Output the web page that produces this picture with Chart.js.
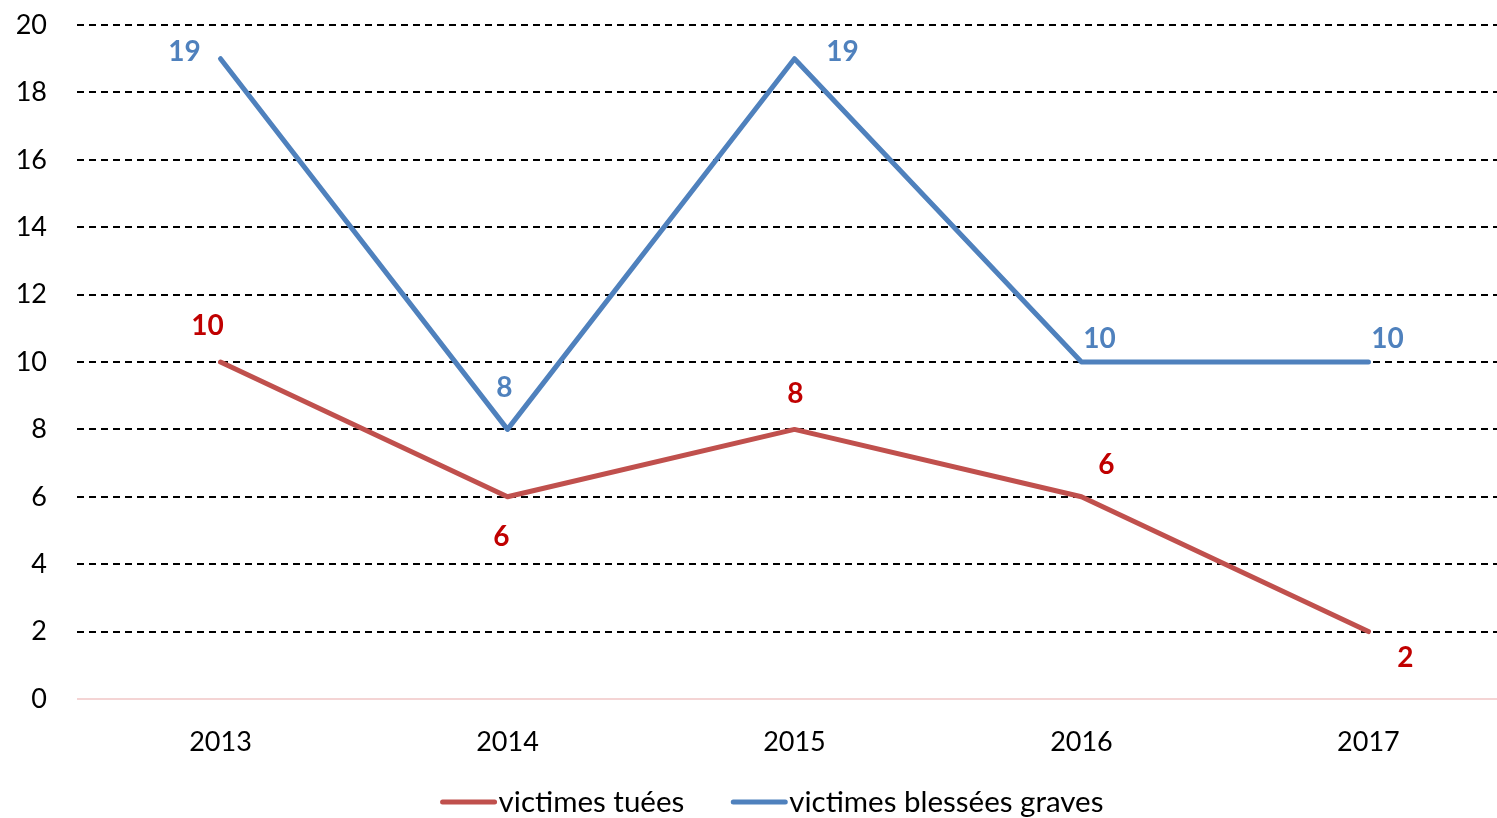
<!DOCTYPE html>
<html>
<head>
<meta charset="utf-8">
<script src="https://cdn.jsdelivr.net/npm/chart.js@4/dist/chart.umd.min.js"></script>
<style>
html,body{margin:0;padding:0;background:#fff;overflow:hidden;}
#wrap{width:1497px;height:818px;position:relative;}
</style>
</head>
<body>
<div id="wrap"><canvas id="c" width="1497" height="818"></canvas></div>
<script>
const categories = ['2013', '2014', '2015', '2016', '2017'];
const killed = [10, 6, 8, 6, 2];
const injured = [19, 8, 19, 10, 10];
const yTicks = [0, 2, 4, 6, 8, 10, 12, 14, 16, 18, 20];
const seriesNames = ['victimes tuées', 'victimes blessées graves'];

const FONT = 'Lato, Calibri, Carlito, sans-serif';
const RED = '#C0504D', BLUE = '#4F81BD';
const RED_LABEL = '#C00000', BLUE_LABEL = '#4F81BD';

// label offsets (px) relative to each point
const labelOffsets = [
  [[-13,-36],[-6,40],[1,-35],[25,-32],[37,26]],
  [[-36,-7],[-3,-41],[48,-7],[18,-23],[19,-23]]
];
const labelColors = [RED_LABEL, BLUE_LABEL];

const dataLabels = {
  id: 'dataLabels',
  afterDatasetsDraw(chart) {
    const ctx = chart.ctx;
    ctx.save();
    ctx.font = 'bold 28px ' + FONT;
    ctx.textAlign = 'center';
    ctx.textBaseline = 'middle';
    chart.data.datasets.forEach((ds, di) => {
      const meta = chart.getDatasetMeta(di);
      meta.data.forEach((pt, i) => {
        const off = labelOffsets[di][i];
        ctx.fillStyle = labelColors[di];
        ctx.fillText(String(ds.data[i].y), pt.x + off[0], pt.y + off[1]);
      });
    });
    ctx.restore();
  }
};

const customLegend = {
  id: 'customLegend',
  afterDraw(chart) {
    const ctx = chart.ctx;
    ctx.save();
    ctx.font = '29.5px ' + FONT;
    ctx.textBaseline = 'middle';
    ctx.textAlign = 'left';
    const y = 802;
    const lineW = 56, gap = 2, itemGap = 47;
    const widths = chart.data.datasets.map(d => ctx.measureText(d.label).width);
    let total = 0;
    widths.forEach((w, i) => { total += lineW + gap + w + (i ? itemGap : 0); });
    let x = 772 - total / 2;
    chart.data.datasets.forEach((d, i) => {
      if (i) x += itemGap;
      ctx.strokeStyle = d.borderColor;
      ctx.lineWidth = 5;
      ctx.lineCap = 'round';
      ctx.beginPath();
      ctx.moveTo(x + 2, y);
      ctx.lineTo(x + lineW - 2, y);
      ctx.stroke();
      ctx.fillStyle = '#000';
      ctx.fillText(d.label, x + lineW + gap, y);
      x += lineW + gap + widths[i];
    });
    ctx.restore();
  }
};

new Chart(document.getElementById('c'), {
  type: 'line',
  data: {
    datasets: [
      { label: seriesNames[0], data: killed.map((v, i) => ({x: i, y: v})),
        borderColor: RED, backgroundColor: RED, borderWidth: 5,
        pointRadius: 0, borderJoinStyle: 'round', borderCapStyle: 'round', tension: 0 },
      { label: seriesNames[1], data: injured.map((v, i) => ({x: i, y: v})),
        borderColor: BLUE, backgroundColor: BLUE, borderWidth: 5,
        pointRadius: 0, borderJoinStyle: 'round', borderCapStyle: 'round', tension: 0 }
    ]
  },
  options: {
    responsive: false,
    animation: false,
    layout: { padding: { top: 25, right: 0, bottom: 59, left: 0 } },
    plugins: { legend: { display: false }, tooltip: { enabled: false } },
    scales: {
      x: {
        type: 'linear', min: -0.5, max: 4.448,
        afterBuildTicks(scale) { scale.ticks = categories.map((c, i) => ({value: i})); },
        afterFit(scale) { scale.height = 60; scale.paddingTop = 0; scale.paddingBottom = 0; },
        grid: { display: false, drawTicks: false },
        border: { display: false },
        ticks: { callback: (v) => categories[v] ?? '', font: { family: FONT, size: 27 }, color: '#000', padding: 27, maxRotation: 0, autoSkip: false }
      },
      y: {
        min: 0, max: 20,
        afterBuildTicks(scale) { scale.ticks = yTicks.map(v => ({value: v})); },
        afterFit(scale) { scale.width = 77; scale.paddingTop = 0; scale.paddingBottom = 0; },
        border: { display: false, dash: (c) => c.tick && c.tick.value === 0 ? [] : [7, 5] },
        grid: {
          drawTicks: false,
          lineWidth: 2,
          color: (c) => c.tick && c.tick.value === 0 ? '#F4D4D4' : '#000'
        },
        ticks: { font: { family: FONT, size: 27 }, color: '#000', padding: 30 }
      }
    }
  },
  plugins: [dataLabels, customLegend]
});
</script>
</body>
</html>
